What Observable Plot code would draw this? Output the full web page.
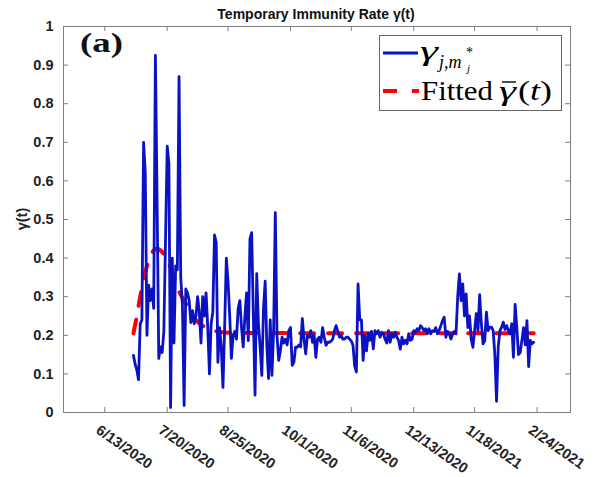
<!DOCTYPE html>
<html><head><meta charset="utf-8">
<script src="https://cdn.jsdelivr.net/npm/d3@7"></script>
<script src="https://cdn.jsdelivr.net/npm/@observablehq/plot@0.6"></script>
<style>body{margin:0;background:#fff}#chart{width:604px;height:477px}</style>
</head><body><div id="chart"></div>
<script>
// ---- data ----
const startDate = "2020-06-30";
const gammaValues = [
0.148,0.125,0.11,0.085,0.23,0.24,0.70,0.62,0.20,0.33,
0.29,0.32,0.27,0.925,0.55,0.14,0.17,0.155,0.21,0.45,
0.69,0.645,0.013,0.40,0.18,0.38,0.37,0.87,0.35,0.28,
0.018,0.32,0.31,0.29,0.233,0.264,0.23,0.25,0.30,0.26,
0.18,0.30,0.25,0.31,0.22,0.10,0.23,0.26,0.46,0.44,
0.13,0.22,0.17,0.065,0.22,0.40,0.34,0.25,0.14,0.20,
0.21,0.19,0.27,0.29,0.22,0.17,0.25,0.31,0.186,0.45,
0.466,0.25,0.045,0.36,0.23,0.17,0.096,0.27,0.34,0.17,
0.088,0.24,0.096,0.21,0.518,0.20,0.135,0.16,0.195,0.18,
0.19,0.175,0.212,0.22,0.122,0.13,0.169,0.169,0.175,0.17,
0.243,0.19,0.152,0.20,0.195,0.212,0.182,0.20,0.143,0.19,
0.195,0.182,0.22,0.195,0.174,0.182,0.182,0.185,0.19,0.212,
0.225,0.21,0.195,0.20,0.19,0.19,0.195,0.195,0.19,0.185,
0.174,0.12,0.105,0.333,0.24,0.24,0.135,0.20,0.16,0.205,
0.187,0.21,0.165,0.212,0.204,0.212,0.195,0.208,0.204,0.19,
0.18,0.212,0.182,0.204,0.195,0.208,0.195,0.187,0.164,0.195,
0.178,0.187,0.178,0.204,0.187,0.19,0.212,0.208,0.217,0.212,
0.225,0.22,0.212,0.217,0.204,0.217,0.204,0.212,0.21,0.22,
0.204,0.212,0.225,0.238,0.247,0.195,0.21,0.204,0.19,0.204,
0.21,0.204,0.30,0.359,0.29,0.333,0.25,0.307,0.22,0.25,
0.19,0.169,0.212,0.256,0.212,0.305,0.23,0.178,0.185,0.26,
0.212,0.221,0.221,0.212,0.15,0.029,0.17,0.212,0.221,0.234,
0.215,0.225,0.212,0.204,0.23,0.143,0.28,0.22,0.15,0.155,
0.187,0.22,0.175,0.238,0.119,0.187,0.178,0.182
];
const fittedDays   = [0,2,4,6,8,10,12,14,16,18,20,22,24,26,28,30,32,34,36,38,41,45,50,60,237];
const fittedValues = [0.205,0.25,0.30,0.345,0.38,0.405,0.42,0.425,0.42,0.41,0.395,0.375,0.35,0.325,0.305,0.29,0.275,0.26,0.245,0.235,0.225,0.215,0.21,0.206,0.205];
const xTickLabels = ["6/13/2020","7/20/2020","8/25/2020","10/1/2020","11/6/2020","12/13/2020","1/18/2021","2/24/2021"];
const yTicks = [0,0.1,0.2,0.3,0.4,0.5,0.6,0.7,0.8,0.9,1];
const yTickLabels = ["0","0.1","0.2","0.3","0.4","0.5","0.6","0.7","0.8","0.9","1"];
const xDomain = ["2020-05-19T14:00Z","2021-03-15T19:00Z"];

// ---- build ----
const parseTick = d3.utcParse("%m/%d/%Y");
const start = new Date(startDate + "T00:00Z");
const gammaData = gammaValues.map((v,i)=>({date:d3.utcDay.offset(start,i), value:v}));
const fitData = fittedDays.map((d,i)=>({date:d3.utcDay.offset(start,d), value:fittedValues[i]}));
const xTickDates = xTickLabels.map(parseTick);
const xLabelMap = new Map(xTickDates.map((d,i)=>[+d, xTickLabels[i]]));

const W=604,H=477,mL=63,mR=34,mT=26,mB=65;
const pw=W-mL-mR, ph=H-mT-mB;
const axisColor="#808080";
const sans="'Liberation Sans', Arial, Helvetica, sans-serif";
const serif="'Liberation Serif', 'Times New Roman', serif";

const svg = Plot.plot({
  width:W, height:H, marginLeft:mL, marginRight:mR, marginTop:mT, marginBottom:mB,
  style:{fontFamily:sans, background:"white", overflow:"visible"},
  x:{type:"utc", domain:xDomain.map(d=>new Date(d)), axis:null},
  y:{domain:[0,1], axis:null},
  marks:[
    Plot.line(fitData,{x:"date",y:"value",stroke:"#ff0000",strokeWidth:4,strokeDasharray:"14,14",curve:"monotone-x"}),
    Plot.line(gammaData,{x:"date",y:"value",stroke:"#0a12c4",strokeWidth:2.8,strokeLinejoin:"round"}),
    Plot.frame({stroke:axisColor}),
    Plot.ruleY(yTicks,{stroke:axisColor,insetRight:pw-5}),
    Plot.ruleY(yTicks,{stroke:axisColor,insetLeft:pw-5}),
    Plot.ruleX(xTickDates,{stroke:axisColor,insetTop:ph-5}),
    Plot.ruleX(xTickDates,{stroke:axisColor,insetBottom:ph-5}),
    Plot.text(yTicks,{y:d=>d,frameAnchor:"left",text:d=>yTickLabels[yTicks.indexOf(d)],textAnchor:"end",dx:-10,fontSize:14.5,fontWeight:"bold",fill:"#222"}),
    Plot.text(xTickDates,{x:d=>d,frameAnchor:"bottom",text:d=>xLabelMap.get(+d),rotate:35,textAnchor:"start",lineAnchor:"middle",dx:-7,dy:16,fontSize:14.5,fontWeight:"bold",fill:"#222"})
  ]
});
document.getElementById("chart").appendChild(svg);

const s = d3.select(svg);
// title
s.append("text").attr("x",316).attr("y",19).attr("text-anchor","middle")
 .attr("font-family",sans).attr("font-weight","bold").attr("font-size",14).attr("fill","#111")
 .text("Temporary Immunity Rate γ(t)");
// y label
s.append("text").attr("transform","translate(27,219) rotate(-90)").attr("text-anchor","middle")
 .attr("font-family",sans).attr("font-weight","bold").attr("font-size",14.5).attr("fill","#222")
 .text("γ(t)");
// panel label
s.append("text").attr("x",80).attr("y",52).attr("text-anchor","start").attr("font-family",serif).attr("font-weight","bold")
 .attr("font-size",28).attr("textLength",43).attr("lengthAdjust","spacingAndGlyphs").attr("fill","#111").text("(a)");
// legend
const lg = s.append("g").attr("text-anchor","start").attr("font-family",serif).attr("fill","#000");
lg.append("rect").attr("x",379.5).attr("y",35.5).attr("width",182).attr("height",75)
  .attr("fill","white").attr("stroke","#666");
lg.append("line").attr("x1",383).attr("x2",418).attr("y1",53).attr("y2",53)
  .attr("stroke","#0a12c4").attr("stroke-width",2.8);
lg.append("line").attr("x1",383).attr("x2",419).attr("y1",91).attr("y2",91)
  .attr("stroke","#ff0000").attr("stroke-width",4).attr("stroke-dasharray","14,15");
// entry 1: γ_{j,m_j^*}
lg.append("text").attr("x",420).attr("y",60).attr("font-size",28).attr("font-style","italic")
  .attr("textLength",18).attr("lengthAdjust","spacingAndGlyphs").text("γ");
lg.append("text").attr("x",439).attr("y",68).attr("font-size",18).attr("font-style","italic").text("j,m");
lg.append("text").attr("x",466).attr("y",57).attr("font-size",14).text("*");
lg.append("text").attr("x",467).attr("y",72).attr("font-size",11).attr("font-style","italic").text("j");
// entry 2: Fitted γ̄(t)
lg.append("text").attr("x",421).attr("y",100).attr("font-size",27).attr("textLength",72).attr("lengthAdjust","spacingAndGlyphs").text("Fitted");
lg.append("text").attr("x",499).attr("y",100).attr("font-size",27).attr("font-style","italic")
  .attr("textLength",17).attr("lengthAdjust","spacingAndGlyphs").text("γ");
lg.append("line").attr("x1",502).attr("x2",516).attr("y1",82).attr("y2",82).attr("stroke","#000").attr("stroke-width",1.4);
const tt = lg.append("text").attr("x",518).attr("y",100).attr("font-size",27).attr("textLength",34).attr("lengthAdjust","spacingAndGlyphs");
tt.append("tspan").text("(");
tt.append("tspan").attr("font-style","italic").text("t");
tt.append("tspan").text(")");
</script>
</body></html>
